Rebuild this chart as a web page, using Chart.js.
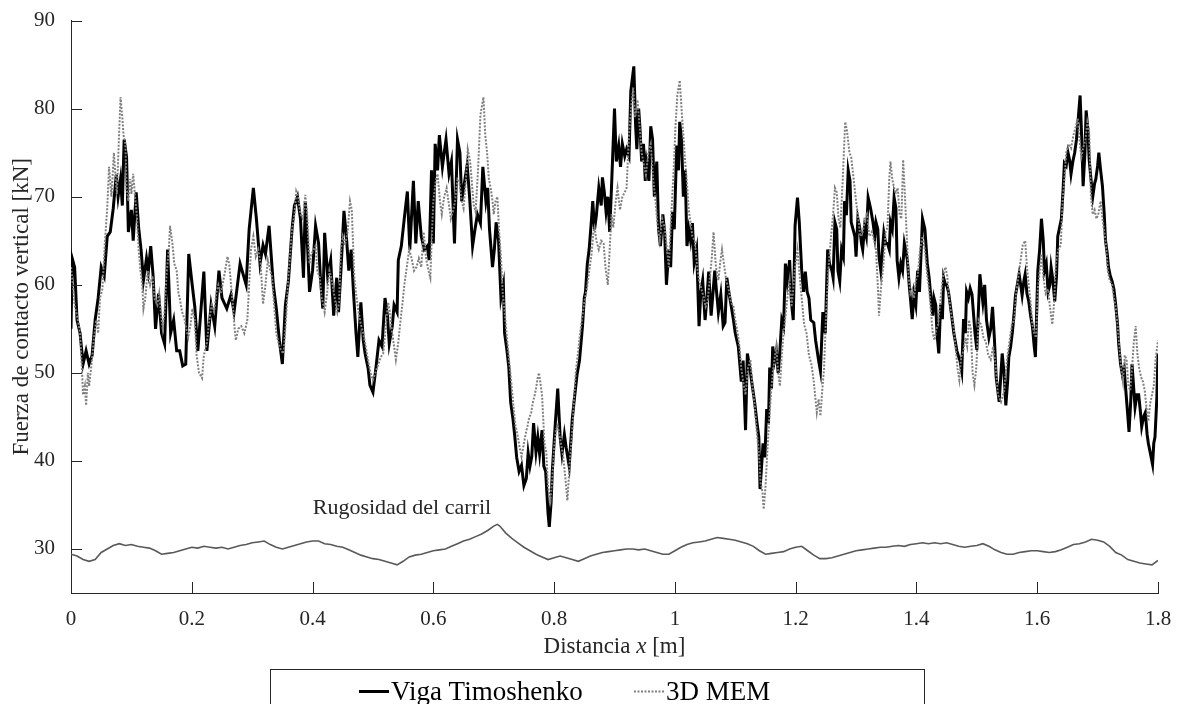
<!DOCTYPE html>
<html>
<head>
<meta charset="utf-8">
<script src="https://cdn.jsdelivr.net/npm/chart.js@4.4.0/dist/chart.umd.min.js"></script>
<style>
  html, body { margin: 0; padding: 0; background: #fff; }
  #wrap { width: 1182px; height: 704px; position: relative; overflow: hidden; }
</style>
</head>
<body>
<div id="wrap"><canvas id="fuerzaChart" width="1182" height="704"></canvas></div>
<script>
// Datos: [distancia x (m), fuerza (kN)]
const vigaTimoshenko = [
  [0.000,55.0],[0.002,63.0],[0.006,62.0],[0.010,56.0],[0.015,54.5],[0.020,51.0],[0.025,52.5],[0.030,51.0],[0.035,52.0],[0.040,56.0],
  [0.045,58.5],[0.050,62.0],[0.055,61.0],[0.060,65.5],[0.065,66.0],[0.070,68.7],[0.075,72.5],[0.078,70.0],[0.082,72.0],[0.085,69.0],
  [0.088,76.5],[0.092,74.5],[0.095,66.0],[0.100,68.5],[0.103,65.0],[0.108,70.5],[0.112,66.5],[0.116,64.0],[0.120,60.5],[0.125,63.0],
  [0.128,61.5],[0.132,64.4],[0.136,61.0],[0.140,55.0],[0.145,59.0],[0.150,54.5],[0.155,53.3],[0.160,64.0],[0.165,54.5],[0.170,56.0],
  [0.175,52.5],[0.180,52.5],[0.185,50.8],[0.190,51.0],[0.195,63.5],[0.200,60.4],[0.205,57.5],[0.210,52.5],[0.220,61.5],[0.225,52.5],
  [0.232,57.7],[0.238,55.3],[0.245,61.6],[0.250,58.5],[0.258,57.3],[0.265,58.9],[0.270,56.9],[0.280,62.4],[0.290,60.0],[0.295,66.3],
  [0.302,71.0],[0.307,67.5],[0.313,62.4],[0.318,64.5],[0.322,63.5],[0.328,66.7],[0.335,60.0],[0.340,57.3],[0.345,53.7],[0.350,51.0],
  [0.355,57.7],[0.360,60.4],[0.366,66.3],[0.370,69.0],[0.375,70.0],[0.380,67.5],[0.385,60.8],[0.388,69.5],[0.392,64.0],[0.395,59.2],
  [0.400,61.6],[0.405,66.7],[0.410,64.7],[0.413,60.8],[0.417,57.3],[0.420,65.9],[0.425,61.0],[0.430,62.8],[0.435,56.5],[0.440,60.8],
  [0.443,56.9],[0.447,61.6],[0.452,68.4],[0.456,65.5],[0.460,61.6],[0.464,64.0],[0.468,58.9],[0.472,54.5],[0.475,51.8],[0.480,58.0],
  [0.484,53.7],[0.487,52.2],[0.492,50.5],[0.495,48.6],[0.500,47.8],[0.505,50.6],[0.510,53.7],[0.515,53.0],[0.520,58.5],[0.524,56.5],
  [0.527,53.3],[0.532,55.3],[0.535,57.7],[0.540,56.9],[0.542,62.8],[0.547,64.4],[0.552,67.6],[0.557,70.6],[0.561,64.0],[0.567,71.8],
  [0.571,64.7],[0.575,69.5],[0.580,65.5],[0.585,64.0],[0.590,64.4],[0.593,62.8],[0.597,73.0],[0.600,64.7],[0.603,76.0],[0.607,73.0],
  [0.610,77.0],[0.615,73.4],[0.618,75.0],[0.621,76.5],[0.626,72.6],[0.630,74.0],[0.635,64.7],[0.640,76.5],[0.644,75.0],[0.647,69.5],
  [0.652,71.8],[0.656,73.6],[0.660,70.0],[0.665,64.4],[0.669,66.3],[0.673,68.0],[0.678,67.0],[0.682,73.4],[0.687,69.5],[0.690,71.0],
  [0.693,66.3],[0.698,62.0],[0.701,64.0],[0.704,67.1],[0.708,65.0],[0.712,58.5],[0.716,60.0],[0.718,54.5],[0.722,52.5],[0.725,50.6],
  [0.728,46.7],[0.732,44.7],[0.735,42.7],[0.738,40.4],[0.742,38.8],[0.746,39.5],[0.750,37.2],[0.754,38.0],[0.757,40.9],[0.760,39.4],
  [0.763,40.5],[0.766,44.3],[0.770,41.0],[0.773,42.7],[0.776,40.8],[0.780,43.5],[0.783,39.4],[0.786,38.8],[0.790,34.0],[0.792,32.5],
  [0.795,35.3],[0.797,38.8],[0.802,44.3],[0.806,48.2],[0.810,42.7],[0.813,40.8],[0.817,43.0],[0.820,41.5],[0.825,39.4],[0.830,44.7],
  [0.833,46.7],[0.838,49.8],[0.842,51.4],[0.847,55.3],[0.850,58.5],[0.852,59.2],[0.855,62.4],[0.858,64.0],[0.862,67.5],[0.864,69.5],
  [0.867,66.3],[0.870,67.9],[0.874,71.0],[0.878,69.0],[0.880,72.2],[0.883,70.6],[0.886,68.3],[0.889,70.0],[0.892,66.0],[0.895,71.0],
  [0.900,80.0],[0.903,74.0],[0.907,75.8],[0.910,73.4],[0.913,76.0],[0.917,74.6],[0.920,75.4],[0.924,74.6],[0.927,82.0],[0.932,84.8],
  [0.935,78.0],[0.937,75.4],[0.940,80.0],[0.942,78.0],[0.945,74.0],[0.948,76.0],[0.951,71.8],[0.953,73.8],[0.957,71.8],[0.960,78.0],
  [0.963,76.5],[0.966,70.0],[0.970,74.0],[0.973,66.3],[0.976,64.4],[0.980,68.0],[0.983,66.0],[0.986,60.0],[0.990,64.0],[0.993,62.0],
  [0.996,68.3],[0.999,66.3],[1.003,75.8],[1.006,73.0],[1.008,78.5],[1.011,76.5],[1.014,70.0],[1.017,73.0],[1.020,64.4],[1.023,66.3],
  [1.026,65.0],[1.029,67.0],[1.032,62.5],[1.036,64.0],[1.040,55.3],[1.043,59.2],[1.046,60.5],[1.050,56.0],[1.053,58.5],[1.056,61.5],
  [1.060,56.5],[1.063,59.0],[1.066,61.6],[1.069,59.2],[1.072,56.9],[1.076,58.9],[1.080,55.3],[1.083,55.7],[1.086,60.8],[1.090,58.9],
  [1.093,57.7],[1.097,56.0],[1.100,54.5],[1.105,53.0],[1.110,49.0],[1.113,51.4],[1.117,43.5],[1.120,52.2],[1.124,50.6],[1.128,48.6],
  [1.132,46.7],[1.136,44.3],[1.139,42.7],[1.141,36.8],[1.143,38.8],[1.146,42.0],[1.149,40.4],[1.152,45.9],[1.155,44.3],[1.157,50.6],
  [1.160,48.2],[1.162,53.0],[1.165,51.4],[1.168,52.5],[1.171,50.0],[1.173,51.5],[1.177,56.0],[1.180,55.3],[1.183,62.4],[1.186,60.4],
  [1.190,62.8],[1.193,58.0],[1.196,56.0],[1.199,66.7],[1.203,69.9],[1.206,67.1],[1.210,61.6],[1.213,59.2],[1.216,61.5],[1.219,59.2],
  [1.222,58.5],[1.225,56.0],[1.230,55.7],[1.233,53.7],[1.238,51.4],[1.241,50.2],[1.245,56.9],[1.249,54.5],[1.253,64.0],[1.256,62.4],
  [1.260,61.6],[1.262,60.8],[1.265,67.1],[1.268,66.3],[1.270,61.6],[1.273,60.4],[1.276,64.0],[1.279,63.2],[1.281,69.5],[1.284,67.9],
  [1.287,73.0],[1.290,71.8],[1.292,67.1],[1.295,66.3],[1.298,65.5],[1.300,63.2],[1.303,67.5],[1.306,66.5],[1.309,64.7],[1.311,64.0],
  [1.314,66.5],[1.317,65.5],[1.320,69.9],[1.324,68.7],[1.328,67.1],[1.331,65.5],[1.333,67.1],[1.336,66.3],[1.338,63.2],[1.341,61.6],
  [1.346,65.9],[1.349,64.7],[1.352,64.7],[1.355,64.0],[1.357,67.1],[1.360,66.3],[1.363,69.9],[1.366,68.7],[1.368,62.8],[1.371,60.8],
  [1.374,62.4],[1.377,61.6],[1.380,64.7],[1.382,64.0],[1.385,62.8],[1.388,60.0],[1.390,58.5],[1.393,56.1],[1.396,58.9],[1.399,57.7],
  [1.402,61.6],[1.405,59.2],[1.410,67.5],[1.414,66.3],[1.418,62.4],[1.421,60.8],[1.424,58.5],[1.427,56.5],[1.429,58.5],[1.432,57.7],
  [1.434,54.5],[1.437,52.2],[1.440,57.7],[1.443,56.1],[1.445,60.8],[1.448,60.0],[1.450,60.0],[1.453,59.2],[1.456,57.7],[1.459,56.1],
  [1.462,54.5],[1.465,53.3],[1.467,52.5],[1.470,51.8],[1.472,51.4],[1.475,50.2],[1.478,56.1],[1.481,54.5],[1.483,59.2],[1.486,58.5],
  [1.489,59.6],[1.492,58.9],[1.497,54.5],[1.500,52.6],[1.505,61.2],[1.510,58.0],[1.513,60.0],[1.516,56.0],[1.520,54.0],[1.523,55.0],
  [1.526,57.5],[1.529,54.0],[1.532,49.5],[1.537,46.7],[1.542,52.2],[1.545,50.0],[1.548,46.3],[1.551,49.0],[1.553,51.8],[1.556,53.0],
  [1.559,54.7],[1.562,57.0],[1.564,58.8],[1.567,60.0],[1.570,61.2],[1.573,59.8],[1.575,58.8],[1.578,60.5],[1.580,61.2],[1.583,59.0],
  [1.586,58.1],[1.589,56.5],[1.592,55.3],[1.595,53.0],[1.597,51.8],[1.601,61.6],[1.604,64.0],[1.607,67.5],[1.610,65.0],[1.612,61.6],
  [1.615,62.4],[1.618,59.2],[1.621,60.0],[1.623,62.0],[1.626,60.5],[1.629,58.1],[1.632,61.0],[1.634,65.5],[1.637,66.5],[1.640,67.5],
  [1.643,71.0],[1.645,73.8],[1.648,73.5],[1.651,75.0],[1.654,74.0],[1.656,72.6],[1.659,74.0],[1.662,75.0],[1.665,76.5],[1.667,78.1],
  [1.671,81.5],[1.674,76.0],[1.676,71.2],[1.679,75.0],[1.681,79.8],[1.684,77.5],[1.686,74.2],[1.689,72.0],[1.692,70.0],[1.695,71.5],
  [1.697,72.0],[1.700,73.5],[1.702,75.0],[1.705,73.0],[1.708,71.2],[1.711,68.0],[1.713,65.1],[1.716,63.5],[1.718,62.0],[1.721,61.0],
  [1.724,60.4],[1.727,59.5],[1.730,57.7],[1.733,55.5],[1.735,53.2],[1.738,51.0],[1.741,49.8],[1.744,50.5],[1.746,48.6],[1.749,46.0],
  [1.752,43.3],[1.755,47.0],[1.757,51.0],[1.760,48.0],[1.762,46.1],[1.765,47.5],[1.768,47.5],[1.771,45.5],[1.773,43.9],[1.776,45.0],
  [1.779,45.5],[1.782,43.0],[1.784,42.0],[1.787,41.0],[1.791,39.6],[1.793,42.0],[1.795,42.7],[1.798,47.0],[1.800,52.2]
];

const mem3D = [
  [0.000,62.0],[0.003,60.0],[0.006,57.7],[0.010,56.5],[0.015,54.5],[0.018,50.6],[0.020,47.5],[0.023,48.5],[0.025,46.3],[0.028,50.0],
  [0.030,48.5],[0.034,51.0],[0.038,54.0],[0.042,56.0],[0.045,54.5],[0.048,58.5],[0.052,59.5],[0.056,64.7],[0.060,68.7],[0.063,73.4],
  [0.067,70.0],[0.071,75.0],[0.074,72.0],[0.076,70.3],[0.079,76.0],[0.082,81.3],[0.085,79.0],[0.087,77.0],[0.090,76.0],[0.092,71.0],
  [0.095,69.5],[0.098,72.0],[0.100,70.3],[0.103,72.6],[0.106,70.0],[0.109,67.9],[0.112,64.0],[0.115,61.6],[0.118,60.0],[0.120,57.3],
  [0.123,58.5],[0.127,61.6],[0.131,60.0],[0.135,61.0],[0.138,58.5],[0.143,57.7],[0.146,59.0],[0.150,56.1],[0.152,55.0],[0.155,57.0],
  [0.158,61.0],[0.162,64.0],[0.164,66.7],[0.168,64.7],[0.171,62.4],[0.175,61.6],[0.178,59.0],[0.180,58.5],[0.184,56.9],[0.188,56.1],
  [0.191,55.0],[0.194,54.0],[0.198,55.5],[0.201,57.3],[0.205,56.0],[0.208,52.0],[0.212,50.0],[0.217,49.4],[0.220,52.0],[0.225,53.4],
  [0.229,56.0],[0.233,57.7],[0.237,56.9],[0.241,59.2],[0.244,60.0],[0.248,59.0],[0.252,60.4],[0.255,61.5],[0.259,63.2],[0.262,62.4],
  [0.265,60.0],[0.268,57.7],[0.271,55.0],[0.273,53.7],[0.277,55.0],[0.282,55.3],[0.287,54.5],[0.292,56.0],[0.295,60.0],[0.298,64.0],
  [0.302,65.5],[0.306,63.2],[0.310,64.0],[0.314,62.4],[0.318,57.8],[0.322,60.0],[0.326,62.8],[0.330,61.6],[0.333,60.8],[0.336,58.0],
  [0.340,54.5],[0.344,53.3],[0.348,52.5],[0.352,52.2],[0.356,56.0],[0.360,61.0],[0.363,63.5],[0.366,66.3],[0.370,68.0],[0.373,70.6],
  [0.376,70.0],[0.380,68.0],[0.384,67.5],[0.388,70.2],[0.391,68.0],[0.395,62.4],[0.398,63.5],[0.402,64.0],[0.405,64.4],[0.408,61.6],
  [0.412,60.8],[0.415,58.5],[0.418,57.7],[0.420,56.9],[0.424,59.0],[0.428,61.6],[0.431,60.8],[0.435,59.2],[0.438,58.0],[0.441,56.9],
  [0.444,58.0],[0.447,64.0],[0.450,65.5],[0.454,64.5],[0.458,66.0],[0.462,69.5],[0.465,68.5],[0.469,61.0],[0.472,59.0],[0.476,57.0],
  [0.480,55.5],[0.484,54.5],[0.488,53.0],[0.492,51.4],[0.496,50.0],[0.500,49.2],[0.504,50.0],[0.509,51.0],[0.513,51.8],[0.517,52.2],
  [0.521,55.0],[0.525,58.0],[0.528,57.0],[0.531,55.0],[0.535,53.0],[0.538,51.5],[0.542,53.5],[0.545,55.5],[0.549,58.0],[0.552,60.0],
  [0.556,62.0],[0.560,64.0],[0.564,63.0],[0.568,61.6],[0.572,62.0],[0.576,63.0],[0.580,62.0],[0.584,66.0],[0.588,63.0],[0.592,61.6],
  [0.595,60.8],[0.598,66.3],[0.600,69.5],[0.604,71.8],[0.607,72.6],[0.611,69.5],[0.614,68.0],[0.618,70.0],[0.622,71.0],[0.626,69.0],
  [0.629,67.5],[0.633,68.5],[0.636,69.5],[0.640,72.0],[0.643,71.8],[0.647,69.5],[0.650,68.7],[0.654,72.0],[0.657,75.4],[0.661,74.0],
  [0.664,71.4],[0.667,69.0],[0.670,68.3],[0.674,73.0],[0.678,79.3],[0.683,81.3],[0.686,77.0],[0.689,75.0],[0.692,72.0],[0.695,71.0],
  [0.698,69.5],[0.700,68.0],[0.703,69.5],[0.706,70.0],[0.709,66.0],[0.712,63.0],[0.715,59.0],[0.718,57.0],[0.722,54.0],[0.726,51.0],
  [0.729,49.0],[0.733,46.0],[0.736,44.0],[0.739,43.1],[0.743,41.5],[0.746,40.5],[0.750,42.0],[0.753,43.1],[0.756,44.0],[0.758,44.7],
  [0.762,45.5],[0.765,46.7],[0.768,47.5],[0.770,48.2],[0.773,49.5],[0.775,50.0],[0.778,48.5],[0.780,47.5],[0.784,42.0],[0.787,41.0],
  [0.790,37.0],[0.794,35.5],[0.797,38.0],[0.800,41.5],[0.803,43.5],[0.806,44.0],[0.810,42.5],[0.815,40.5],[0.818,38.5],[0.822,35.5],
  [0.826,40.0],[0.830,43.5],[0.833,47.0],[0.836,50.2],[0.840,52.5],[0.843,54.5],[0.847,56.5],[0.850,58.0],[0.854,59.5],[0.857,61.0],
  [0.860,62.5],[0.862,63.5],[0.865,66.0],[0.867,66.5],[0.870,65.0],[0.874,64.0],[0.878,65.0],[0.882,64.7],[0.885,62.0],[0.889,60.0],
  [0.892,64.0],[0.895,68.0],[0.898,66.5],[0.902,69.5],[0.905,71.0],[0.909,68.5],[0.913,70.0],[0.917,70.5],[0.920,71.0],[0.924,77.0],
  [0.928,80.5],[0.931,82.4],[0.934,79.0],[0.938,81.0],[0.941,78.5],[0.945,75.0],[0.949,73.5],[0.952,72.5],[0.956,75.0],[0.960,76.0],
  [0.964,72.0],[0.968,69.5],[0.971,67.0],[0.975,65.0],[0.979,67.5],[0.983,66.5],[0.987,64.0],[0.990,62.0],[0.994,68.0],[0.998,73.0],
  [1.001,78.0],[1.004,81.5],[1.008,83.2],[1.011,80.0],[1.014,77.0],[1.017,74.0],[1.020,71.5],[1.023,68.5],[1.026,67.0],[1.029,65.5],
  [1.033,65.0],[1.037,62.0],[1.040,60.5],[1.044,59.5],[1.048,58.5],[1.051,57.5],[1.054,58.0],[1.058,60.8],[1.061,63.0],[1.064,66.0],
  [1.068,62.0],[1.072,60.5],[1.075,62.5],[1.078,64.0],[1.082,62.0],[1.085,60.5],[1.089,59.5],[1.093,58.0],[1.097,57.5],[1.100,56.0],
  [1.104,54.5],[1.107,53.0],[1.110,50.5],[1.113,49.0],[1.117,47.5],[1.121,50.5],[1.125,51.5],[1.129,48.0],[1.132,46.5],[1.136,43.0],
  [1.139,41.0],[1.142,37.5],[1.145,36.5],[1.147,34.5],[1.150,37.0],[1.153,41.0],[1.156,44.5],[1.159,47.5],[1.162,50.0],[1.165,51.5],
  [1.168,53.0],[1.171,50.0],[1.174,48.5],[1.177,52.0],[1.180,54.5],[1.184,57.0],[1.187,59.0],[1.190,60.5],[1.193,57.5],[1.196,59.5],
  [1.199,62.0],[1.203,64.0],[1.206,61.5],[1.210,58.5],[1.214,55.5],[1.218,54.5],[1.222,52.0],[1.226,51.0],[1.230,49.0],[1.235,45.5],
  [1.238,47.0],[1.241,45.1],[1.244,48.0],[1.247,50.5],[1.250,56.0],[1.254,61.6],[1.258,65.0],[1.262,68.0],[1.265,71.0],[1.268,70.5],
  [1.271,67.5],[1.274,66.5],[1.278,72.0],[1.282,78.5],[1.285,77.5],[1.289,75.0],[1.292,74.5],[1.296,72.0],[1.300,69.5],[1.303,68.0],
  [1.307,65.5],[1.311,66.0],[1.315,67.5],[1.318,68.0],[1.322,65.5],[1.326,66.0],[1.330,65.0],[1.333,64.0],[1.336,60.0],[1.338,56.5],
  [1.341,59.5],[1.345,62.0],[1.349,66.0],[1.352,66.5],[1.355,72.0],[1.357,74.0],[1.360,72.0],[1.363,71.0],[1.366,70.5],[1.369,71.0],
  [1.372,68.0],[1.375,67.5],[1.378,74.2],[1.381,70.0],[1.384,65.5],[1.387,61.0],[1.390,59.0],[1.393,59.5],[1.396,58.5],[1.399,60.5],
  [1.402,61.0],[1.406,64.0],[1.410,65.5],[1.414,64.0],[1.418,61.0],[1.421,59.5],[1.424,57.0],[1.427,54.5],[1.430,53.7],[1.433,55.0],
  [1.436,55.5],[1.440,58.5],[1.444,61.0],[1.448,62.0],[1.451,61.0],[1.454,58.5],[1.458,56.5],[1.461,55.5],[1.464,53.5],[1.468,50.5],
  [1.471,49.2],[1.474,51.8],[1.478,52.5],[1.481,54.0],[1.484,53.0],[1.487,56.0],[1.490,55.0],[1.493,50.0],[1.496,48.6],[1.499,50.5],
  [1.503,56.0],[1.507,55.5],[1.511,54.0],[1.515,53.5],[1.519,52.0],[1.523,51.5],[1.527,53.0],[1.531,51.0],[1.535,47.5],[1.540,46.7],
  [1.545,47.8],[1.550,51.5],[1.554,53.5],[1.558,55.5],[1.562,56.0],[1.565,59.0],[1.569,61.0],[1.572,62.5],[1.576,64.5],[1.580,65.0],
  [1.583,62.0],[1.586,60.0],[1.589,58.0],[1.592,55.5],[1.595,54.5],[1.598,54.0],[1.601,59.5],[1.604,61.5],[1.607,63.5],[1.610,61.0],
  [1.614,59.0],[1.618,59.5],[1.621,57.5],[1.625,55.5],[1.628,58.0],[1.631,62.5],[1.635,64.0],[1.639,64.5],[1.642,69.5],[1.645,72.0],
  [1.648,75.0],[1.652,76.0],[1.656,75.5],[1.660,77.0],[1.664,78.0],[1.667,78.9],[1.670,76.5],[1.673,74.5],[1.676,75.5],[1.680,76.5],
  [1.683,78.5],[1.686,77.5],[1.689,70.0],[1.692,68.0],[1.695,68.5],[1.698,67.5],[1.701,68.0],[1.705,69.5],[1.708,67.5],[1.711,66.0],
  [1.714,64.5],[1.717,61.5],[1.720,60.5],[1.724,60.0],[1.727,58.5],[1.730,57.5],[1.733,55.5],[1.736,53.0],[1.739,50.5],[1.742,49.0],
  [1.745,52.0],[1.748,51.5],[1.751,48.5],[1.754,48.0],[1.757,50.5],[1.760,53.5],[1.763,55.3],[1.766,52.0],[1.769,50.5],[1.772,49.5],
  [1.775,49.0],[1.778,48.0],[1.781,46.0],[1.784,44.5],[1.787,46.5],[1.790,47.5],[1.793,48.5],[1.796,51.5],[1.800,53.7]
];

const rugosidad = [
  [0.000,29.4],[0.010,29.2],[0.020,28.8],[0.030,28.6],[0.040,28.8],[0.050,29.6],[0.060,30.0],[0.070,30.4],[0.080,30.6],[0.090,30.4],
  [0.100,30.5],[0.110,30.3],[0.120,30.2],[0.130,30.1],[0.140,29.8],[0.150,29.4],[0.160,29.5],[0.170,29.6],[0.180,29.8],[0.190,30.0],
  [0.200,30.2],[0.210,30.1],[0.220,30.3],[0.230,30.2],[0.240,30.1],[0.250,30.2],[0.260,30.0],[0.270,30.2],[0.280,30.4],[0.290,30.5],
  [0.300,30.7],[0.310,30.8],[0.320,30.9],[0.330,30.5],[0.340,30.2],[0.350,30.0],[0.360,30.2],[0.370,30.4],[0.380,30.6],[0.390,30.8],
  [0.400,30.9],[0.410,30.9],[0.420,30.6],[0.430,30.5],[0.440,30.3],[0.450,30.2],[0.460,29.9],[0.470,29.6],[0.480,29.3],[0.490,29.1],
  [0.500,28.9],[0.510,28.8],[0.520,28.6],[0.530,28.4],[0.540,28.2],[0.550,28.6],[0.560,29.1],[0.570,29.3],[0.580,29.4],[0.590,29.6],
  [0.600,29.8],[0.610,29.9],[0.620,30.0],[0.630,30.3],[0.640,30.6],[0.650,30.9],[0.660,31.1],[0.670,31.4],[0.680,31.7],[0.690,32.1],
  [0.700,32.6],[0.706,32.8],[0.710,32.6],[0.720,31.8],[0.730,31.2],[0.740,30.7],[0.750,30.2],[0.760,29.8],[0.770,29.4],[0.780,29.1],
  [0.790,28.8],[0.800,29.0],[0.810,29.2],[0.820,29.0],[0.830,28.8],[0.840,28.6],[0.850,28.9],[0.860,29.2],[0.870,29.4],[0.880,29.6],
  [0.890,29.7],[0.900,29.8],[0.910,29.9],[0.920,30.0],[0.930,30.0],[0.940,29.9],[0.950,30.0],[0.960,29.8],[0.970,29.6],[0.980,29.4],
  [0.990,29.4],[1.000,29.8],[1.010,30.2],[1.020,30.5],[1.030,30.7],[1.040,30.8],[1.050,30.9],[1.060,31.1],[1.070,31.3],[1.080,31.2],
  [1.090,31.1],[1.100,31.0],[1.110,30.8],[1.120,30.6],[1.130,30.3],[1.140,29.8],[1.150,29.4],[1.160,29.5],[1.170,29.6],[1.180,29.7],
  [1.190,30.0],[1.200,30.2],[1.210,30.3],[1.220,29.8],[1.230,29.3],[1.240,28.9],[1.250,28.9],[1.260,29.0],[1.270,29.2],[1.280,29.4],
  [1.290,29.6],[1.300,29.8],[1.310,29.9],[1.320,30.0],[1.330,30.1],[1.340,30.2],[1.350,30.2],[1.360,30.3],[1.370,30.4],[1.380,30.3],
  [1.390,30.5],[1.400,30.6],[1.410,30.7],[1.420,30.6],[1.430,30.7],[1.440,30.6],[1.450,30.7],[1.460,30.5],[1.470,30.3],[1.480,30.2],
  [1.490,30.3],[1.500,30.4],[1.510,30.6],[1.520,30.3],[1.530,29.9],[1.540,29.6],[1.550,29.4],[1.560,29.4],[1.570,29.6],[1.580,29.7],
  [1.590,29.8],[1.600,29.8],[1.610,29.7],[1.620,29.6],[1.630,29.7],[1.640,29.9],[1.650,30.2],[1.660,30.5],[1.670,30.6],[1.680,30.8],
  [1.690,31.1],[1.700,31.0],[1.710,30.8],[1.720,30.3],[1.730,29.6],[1.740,29.3],[1.750,28.8],[1.760,28.6],[1.770,28.4],[1.780,28.3],
  [1.790,28.2],[1.800,28.7]
];

const xTicks = [0, 0.2, 0.4, 0.6, 0.8, 1, 1.2, 1.4, 1.6, 1.8];
const yTicks = [30, 40, 50, 60, 70, 80, 90];
const serieNames = ['Viga Timoshenko', '3D MEM'];
const rugosidadLabel = 'Rugosidad del carril';

const serif = '"Liberation Serif", "Times New Roman", serif';
const axisColor = '#262626';

function toPoints(pairs) {
  return pairs.map(p => ({ x: p[0], y: p[1] }));
}

// Marcas de los ejes hacia dentro, estilo MATLAB
const inwardTicks = {
  id: 'inwardTicks',
  afterDraw(chart) {
    const ctx = chart.ctx;
    const xs = chart.scales.x, ys = chart.scales.y;
    const area = chart.chartArea;
    ctx.save();
    ctx.strokeStyle = axisColor;
    ctx.lineWidth = 1;
    ctx.beginPath();
    xTicks.forEach(v => {
      const px = Math.round(xs.getPixelForValue(v)) + 0.5;
      ctx.moveTo(px, area.bottom);
      ctx.lineTo(px, area.bottom - 11);
    });
    yTicks.forEach(v => {
      const py = Math.round(ys.getPixelForValue(v)) + 0.5;
      ctx.moveTo(area.left, py);
      ctx.lineTo(area.left + 11, py);
    });
    ctx.stroke();
    ctx.restore();
  }
};

// Titulo del eje x con la x en cursiva, anotacion y leyenda con marco
const extraText = {
  id: 'extraText',
  afterDraw(chart) {
    const ctx = chart.ctx;
    const xs = chart.scales.x, ys = chart.scales.y;
    const area = chart.chartArea;
    ctx.save();
    ctx.fillStyle = axisColor;
    ctx.textBaseline = 'alphabetic';

    // titulo eje x
    const parts = [['Distancia ', 'normal'], ['x', 'italic'], [' [m]', 'normal']];
    let total = 0;
    parts.forEach(p => { ctx.font = p[1] + ' 23px ' + serif; total += ctx.measureText(p[0]).width; });
    let cx = (area.left + area.right) / 2 - total / 2;
    parts.forEach(p => {
      ctx.font = p[1] + ' 23px ' + serif;
      ctx.fillText(p[0], cx, 653);
      cx += ctx.measureText(p[0]).width;
    });

    // anotacion de la rugosidad
    ctx.font = '22px ' + serif;
    ctx.textAlign = 'center';
    ctx.fillText(rugosidadLabel, xs.getPixelForValue(0.548), ys.getPixelForValue(34.0));

    // leyenda
    ctx.textAlign = 'left';
    ctx.strokeStyle = axisColor;
    ctx.lineWidth = 1;
    ctx.strokeRect(270.5, 669.5, 654, 60);
    const items = [
      { ds: chart.data.datasets[2], x: 359 },
      { ds: chart.data.datasets[1], x: 634 }
    ];
    items.forEach(it => {
      ctx.save();
      ctx.strokeStyle = it.ds.borderColor;
      ctx.lineWidth = it.ds.borderWidth;
      ctx.setLineDash(it.ds.borderDash || []);
      ctx.beginPath();
      ctx.moveTo(it.x, 691.5);
      ctx.lineTo(it.x + 30, 691.5);
      ctx.stroke();
      ctx.restore();
      ctx.font = '27px ' + serif;
      ctx.fillStyle = '#000';
      ctx.fillText(it.ds.label, it.x + 32, 700);
    });
    ctx.restore();
  }
};

const ctx = document.getElementById('fuerzaChart').getContext('2d');
const fuerzaChart = new Chart(ctx, {
  type: 'line',
  data: {
    datasets: [
      {
        label: rugosidadLabel,
        data: toPoints(rugosidad),
        borderColor: '#595959',
        borderWidth: 1.6,
        pointRadius: 0,
        tension: 0
      },
      {
        label: serieNames[1],
        data: toPoints(mem3D),
        borderColor: '#7f7f7f',
        borderWidth: 2,
        borderDash: [2, 1.5],
        pointRadius: 0,
        tension: 0
      },
      {
        label: serieNames[0],
        data: toPoints(vigaTimoshenko),
        borderColor: '#000000',
        borderWidth: 3,
        pointRadius: 0,
        tension: 0
      }
    ]
  },
  options: {
    responsive: false,
    animation: false,
    devicePixelRatio: 1,
    events: [],
    layout: { padding: { top: 15, right: 24, left: 0, bottom: 0 } },
    plugins: {
      legend: { display: false },
      tooltip: { enabled: false }
    },
    scales: {
      x: {
        type: 'linear',
        min: 0,
        max: 1.8,
        grid: { display: false },
        border: { display: true, color: axisColor, width: 1 },
        afterBuildTicks: s => { s.ticks = xTicks.map(v => ({ value: v })); },
        afterFit: s => { s.height = 111; },
        ticks: {
          color: axisColor,
          padding: 6,
          maxRotation: 0,
          font: { family: serif, size: 21 },
          callback: v => String(+Number(v).toFixed(1))
        }
      },
      y: {
        type: 'linear',
        min: 25,
        max: 90,
        grid: { display: false },
        border: { display: true, color: axisColor, width: 1 },
        afterBuildTicks: s => { s.ticks = yTicks.map(v => ({ value: v })); },
        afterFit: s => { s.width = 71; },
        ticks: {
          color: axisColor,
          padding: 8,
          font: { family: serif, size: 21 }
        },
        title: {
          display: true,
          text: 'Fuerza de contacto vertical [kN]',
          color: axisColor,
          font: { family: serif, size: 23 },
          padding: { top: 8, bottom: 0 }
        }
      }
    }
  },
  plugins: [inwardTicks, extraText]
});
</script>
</body>
</html>
